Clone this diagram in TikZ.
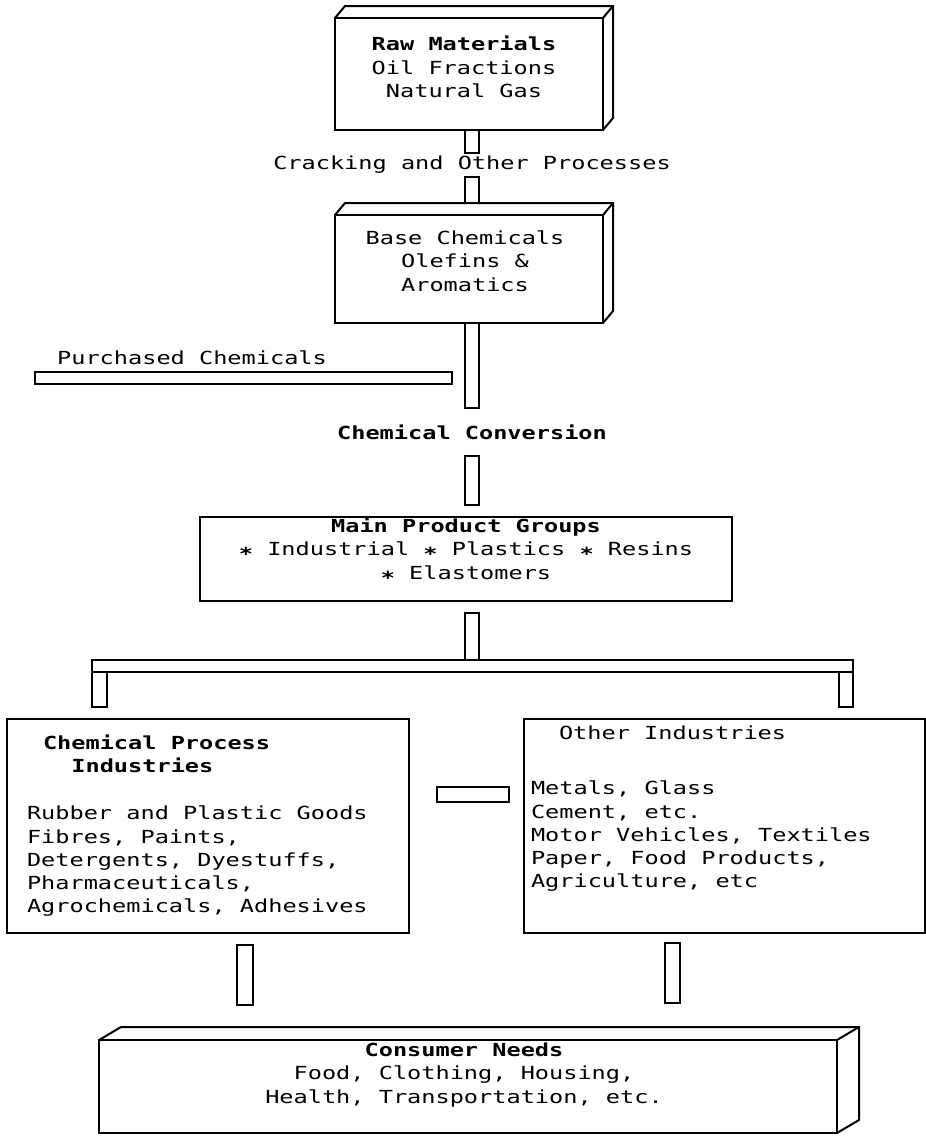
\documentclass[tikz,border=0pt]{standalone}
\usepackage{fontspec}
\setmainfont{DejaVu Sans Mono}[FakeStretch=1.31]
\usetikzlibrary{calc}

\newcommand\slab[3]{%
  \coordinate (#1-top) at ([shift={(#2,#3)}]#1.north);
  \draw (#1.north west) -- ([shift={(#2,#3)}]#1.north west)
    -- ([shift={(#2,#3)}]#1.north east) -- ([shift={(#2,#3)}]#1.south east)
    -- (#1.south east);
  \draw (#1.north east) -- ([shift={(#2,#3)}]#1.north east);}
\newcommand\pipe[2]{\draw ($(#1)+(-7,0)$) rectangle ($(#2)+(7,0)$);}
\newcommand\bul{\raisebox{-.5ex}{\textbf{*}}}

\begin{document}
\begin{tikzpicture}[x=0.5pt,y=-0.5pt,line width=1pt,
  frame/.style={draw,inner sep=0,outer sep=0},
  lbl/.style={inner sep=0,outer sep=0,font=\fontsize{9pt}{11.65pt}\selectfont}]
\useasboundingbox (0,0) rectangle (926,1136);

\node[frame,minimum width=134pt,minimum height=56pt] (raw) at (469,74) {};
\slab{raw}{10}{-12}
\node[frame,minimum width=134pt,minimum height=54pt] (base) at (469,269) {};
\slab{base}{10}{-12}
\node[frame,minimum width=266pt,minimum height=42pt,outer ysep=6pt] (main) at (466,559) {};
\node[frame,minimum width=201pt,minimum height=107pt] (cpi) at (208,826) {};
\node[frame,minimum width=200.5pt,minimum height=107pt] (other) at (724.5,826) {};
\node[frame,minimum width=369pt,minimum height=46.5pt] (consumer) at (468,1086.5) {};
\slab{consumer}{22}{-13}

\node[lbl,align=center] (rawtext) at (464,67) {\textbf{Raw Materials}\\Oil Fractions\\Natural Gas};
\node[lbl,outer ysep=1.5pt] (crack) at (472,165) {Cracking and Other Processes};
\node[lbl,align=center] (basetext) at (465,261) {Base Chemicals\\Olefins \&\\Aromatics};
\node[lbl] (purch) at (192,358) {Purchased Chemicals};
\node[lbl,outer ysep=8.5pt] (conv) at (472,432) {\textbf{Chemical Conversion}};
\node[lbl,align=center] (maintext) at (466,551) {\textbf{Main Product Groups}\\
  \bul{} Industrial \bul{} Plastics \bul{} Resins\\\bul{} Elastomers};
\node[lbl,align=left,anchor=north west] (cpititle) at (43,735)
  {\textbf{Chemical Process}\\\phantom{xx}\textbf{Industries}};
\node[lbl,align=left,anchor=north west] (cpilist) at (27,806)
  {Rubber and Plastic Goods\\Fibres, Paints,\\Detergents, Dyestuffs,\\Pharmaceuticals,\\Agrochemicals, Adhesives};
\node[lbl,anchor=north west] (othertitle) at (559,726) {Other Industries};
\node[lbl,align=left,anchor=north west] (otherlist) at (531,781)
  {Metals, Glass\\Cement, etc.\\Motor Vehicles, Textiles\\Paper, Food Products,\\Agriculture, etc};
\node[lbl,align=center] (consumertext) at (464,1075)
  {\textbf{Consumer Needs}\\Food, Clothing, Housing,\\Health, Transportation, etc.};

% pipes
\pipe{raw.south -| crack}{crack.north}
\pipe{crack.south}{crack.south |- base-top}
\pipe{base.south -| conv}{conv.north}
\pipe{conv.south}{main.north -| conv}
\coordinate (feed) at (35,372);
\draw (feed) rectangle ($(base.south -| conv)+(-20,61)$);
\coordinate (busl) at (92,660);
\coordinate (busr) at (853,672);
\pipe{main.south -| conv}{conv |- busl}
\draw (busl) rectangle (busr);
\draw (busl |- busr) rectangle ++(15,35);
\draw (busr) rectangle ++(-14,35);
\draw ([shift={(28,-39)}]cpi.east) rectangle ([shift={(-15,-24)}]other.west);
\draw ([shift={(29,12)}]cpi.south) rectangle ([shift={(45,72)}]cpi.south);
\draw ([shift={(-60,10)}]other.south) rectangle ([shift={(-45,70)}]other.south);
\end{tikzpicture}
\end{document}
